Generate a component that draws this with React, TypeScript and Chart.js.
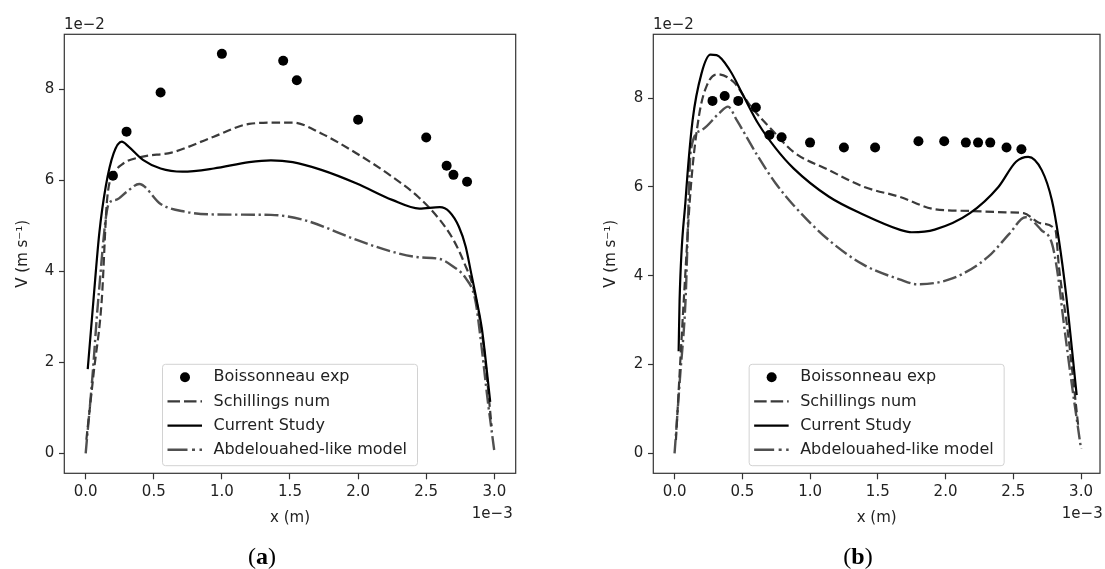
import React, { useEffect, useRef } from 'react';
import { Chart, registerables } from 'chart.js';
Chart.register(...registerables);

// ---------- data (x in units of 1e-3 m, V in units of 1e-2 m/s) ----------
const X_TICKS = [0, 0.5, 1, 1.5, 2, 2.5, 3];
const Y_TICKS = [0, 2, 4, 6, 8];
const LABELS = ['Boissonneau exp', 'Schillings num', 'Current Study', 'Abdelouahed-like model'];

// panel (a)
const aExpX = [0.2, 0.3, 0.55, 1.0, 1.45, 1.55, 2.0, 2.5, 2.65, 2.7, 2.8];
const aExpV = [6.1, 7.07, 7.93, 8.78, 8.63, 8.2, 7.33, 6.94, 6.32, 6.12, 5.97];

const aSchX = [0.005, 0.06, 0.118, 0.157, 0.21, 0.276, 0.42, 0.63, 0.94, 1.2, 1.42, 1.52, 1.73, 1.99, 2.25, 2.44, 2.6, 2.7, 2.78, 2.85, 2.92, 2.98];
const aSchV = [0.3, 1.8, 3.37, 5.57, 6.15, 6.37, 6.52, 6.61, 6.96, 7.24, 7.27, 7.27, 7.03, 6.59, 6.08, 5.64, 5.13, 4.69, 4.18, 3.59, 2.4, 0.6];

const aCurX = [0.015, 0.058, 0.1, 0.147, 0.205, 0.265, 0.315, 0.42, 0.55, 0.71, 0.94, 1.2, 1.36, 1.52, 1.73, 1.99, 2.25, 2.45, 2.6, 2.67, 2.74, 2.79, 2.83, 2.87, 2.91, 2.97];
const aCurV = [1.85, 3.4, 4.84, 5.86, 6.59, 6.85, 6.74, 6.45, 6.26, 6.19, 6.26, 6.4, 6.44, 6.4, 6.23, 5.93, 5.57, 5.38, 5.41, 5.31, 4.98, 4.54, 3.96, 3.37, 2.71, 1.13];

const aAbdX = [0.0, 0.05, 0.092, 0.17, 0.222, 0.302, 0.393, 0.55, 0.73, 0.94, 1.36, 1.6, 1.99, 2.25, 2.44, 2.6, 2.7, 2.79, 2.86, 2.9, 2.95, 3.0];
const aAbdV = [0.0, 1.7, 3.37, 5.49, 5.57, 5.75, 5.92, 5.48, 5.31, 5.25, 5.24, 5.13, 4.69, 4.43, 4.31, 4.27, 4.1, 3.85, 3.37, 2.5, 1.2, 0.05];

// panel (b)
const bExpX = [0.28, 0.37, 0.47, 0.6, 0.7, 0.79, 1.0, 1.25, 1.48, 1.8, 1.99, 2.15, 2.24, 2.33, 2.45, 2.56];
const bExpV = [7.94, 8.05, 7.94, 7.79, 7.17, 7.12, 7.0, 6.89, 6.89, 7.03, 7.03, 7.0, 7.0, 7.0, 6.89, 6.85];

const bSchX = [0.01, 0.068, 0.12, 0.18, 0.24, 0.316, 0.434, 0.564, 0.721, 0.878, 1.14, 1.4, 1.66, 1.92, 2.18, 2.445, 2.576, 2.707, 2.811, 2.837, 2.9, 2.98];
const bSchV = [0.3, 3.45, 6.0, 7.6, 8.3, 8.54, 8.37, 7.81, 7.28, 6.79, 6.38, 6.0, 5.78, 5.5, 5.46, 5.43, 5.41, 5.18, 5.03, 4.2, 2.8, 0.6];

const bCurX = [0.03, 0.037, 0.081, 0.133, 0.199, 0.265, 0.31, 0.408, 0.512, 0.617, 0.747, 0.878, 1.14, 1.4, 1.66, 1.75, 1.92, 2.18, 2.39, 2.52, 2.61, 2.71, 2.785, 2.837, 2.889, 2.968];
const bCurV = [2.3, 3.45, 5.7, 7.5, 8.56, 8.98, 8.97, 8.63, 8.03, 7.43, 6.87, 6.42, 5.78, 5.37, 5.04, 4.98, 5.04, 5.41, 6.0, 6.57, 6.68, 6.38, 5.7, 4.8, 3.6, 1.31];

const bAbdX = [0.0, 0.04, 0.081, 0.12, 0.199, 0.329, 0.394, 0.46, 0.617, 0.747, 0.878, 1.14, 1.4, 1.66, 1.79, 2.05, 2.315, 2.472, 2.589, 2.707, 2.785, 2.83, 2.87, 2.93, 3.0];
const bAbdV = [0.0, 1.7, 3.45, 6.83, 7.28, 7.66, 7.81, 7.5, 6.68, 6.08, 5.59, 4.8, 4.24, 3.92, 3.81, 3.94, 4.43, 4.95, 5.32, 5.03, 4.73, 4.0, 3.0, 1.6, 0.1];

// ---------- styling ----------
const FONT = "'DejaVu Sans', sans-serif";
const TEXT = '#222222';
const AXIS = '#333333';

const zip = (xs: number[], ys: number[]) => xs.map((x, i) => ({ x, y: ys[i] }));

function makeDatasets(ex: number[], ev: number[], sx: number[], sv: number[], cx: number[], cv: number[], ax: number[], av: number[]) {
  return [
    {
      label: LABELS[0], data: zip(ex, ev), showLine: false,
      pointRadius: 5, pointBackgroundColor: '#000', pointBorderColor: '#000', pointBorderWidth: 0,
      kind: 'dot', order: 0,
    },
    {
      label: LABELS[1], data: zip(sx, sv), showLine: true, pointRadius: 0,
      borderColor: '#3a3a3a', borderWidth: 2.2, borderDash: [8.5, 4], cubicInterpolationMode: 'monotone',
      kind: 'line', legendDash: [12.5, 4], order: 2,
    },
    {
      label: LABELS[2], data: zip(cx, cv), showLine: true, pointRadius: 0,
      borderColor: '#000000', borderWidth: 2.2, borderDash: [], cubicInterpolationMode: 'monotone',
      kind: 'line', legendDash: [], order: 1,
    },
    {
      label: LABELS[3], data: zip(ax, av), showLine: true, pointRadius: 0,
      borderColor: '#505050', borderWidth: 2.4, borderDash: [14, 3.6, 2.3, 3.6], cubicInterpolationMode: 'monotone',
      kind: 'line', legendDash: [20, 4.5, 3, 4.5], order: 3,
    },
  ];
}

const framePlugin = {
  id: 'frameAndLegend',
  afterDraw(chart: any) {
    const { ctx, chartArea } = chart;
    ctx.save();
    ctx.strokeStyle = AXIS;
    ctx.lineWidth = 1.2;
    ctx.strokeRect(chartArea.left, chartArea.top, chartArea.right - chartArea.left, chartArea.bottom - chartArea.top);

    // legend box (lower center)
    const w = 255, h = 101.4;
    const left = (chartArea.left + chartArea.right) / 2 - w / 2;
    const top = chartArea.bottom - 7.6 - h;
    const r = 3;
    ctx.beginPath();
    ctx.moveTo(left + r, top);
    ctx.lineTo(left + w - r, top);
    ctx.quadraticCurveTo(left + w, top, left + w, top + r);
    ctx.lineTo(left + w, top + h - r);
    ctx.quadraticCurveTo(left + w, top + h, left + w - r, top + h);
    ctx.lineTo(left + r, top + h);
    ctx.quadraticCurveTo(left, top + h, left, top + h - r);
    ctx.lineTo(left, top + r);
    ctx.quadraticCurveTo(left, top, left + r, top);
    ctx.closePath();
    ctx.fillStyle = 'rgba(255,255,255,0.85)';
    ctx.fill();
    ctx.strokeStyle = '#d2d2d2';
    ctx.lineWidth = 1;
    ctx.stroke();

    ctx.font = `16px ${FONT}`;
    ctx.textBaseline = 'middle';
    ctx.textAlign = 'left';
    chart.data.datasets.forEach((ds: any, i: number) => {
      const cy = top + 13 + i * 24.15;
      if (ds.kind === 'dot') {
        ctx.beginPath();
        ctx.fillStyle = '#000';
        ctx.arc(left + 22.5, cy, 5, 0, Math.PI * 2);
        ctx.fill();
      } else {
        ctx.beginPath();
        ctx.setLineDash(ds.legendDash || []);
        ctx.strokeStyle = ds.borderColor;
        ctx.lineWidth = ds.borderWidth;
        ctx.moveTo(left + 5, cy);
        ctx.lineTo(left + 39.5, cy);
        ctx.stroke();
        ctx.setLineDash([]);
      }
      ctx.fillStyle = TEXT;
      ctx.fillText(ds.label, left + 51, cy);
    });
    ctx.restore();
  },
};

type PanelProps = {
  left: number; width: number; padLeft: number; yWidth: number; padRight: number;
  xMin: number; xMax: number; yMin: number; yMax: number; datasets: any[];
};

function Panel(p: PanelProps) {
  const ref = useRef<HTMLCanvasElement | null>(null);
  useEffect(() => {
    if (!ref.current) return;
    const chart = new Chart(ref.current, {
      type: 'scatter',
      data: { datasets: p.datasets },
      plugins: [framePlugin],
      options: {
        animation: false,
        responsive: false,
        devicePixelRatio: 1,
        layout: { padding: { left: p.padLeft, right: p.padRight, top: 34.3, bottom: 41.7 } },
        plugins: { legend: { display: false }, tooltip: { enabled: false } },
        scales: {
          x: {
            type: 'linear', min: p.xMin, max: p.xMax,
            afterBuildTicks: (s: any) => { s.ticks = X_TICKS.map((value) => ({ value })); },
            afterFit: (s: any) => { s.height = 54; },
            ticks: {
              font: { family: FONT, size: 15 }, color: TEXT, padding: 3.4, maxRotation: 0,
              callback: (v: any) => Number(v).toFixed(1),
            },
            grid: { display: true, drawOnChartArea: false, drawTicks: true, tickLength: 6, tickColor: AXIS, tickWidth: 1.2 },
            border: { display: false },
            title: { display: true, text: 'x (m)', font: { family: FONT, size: 15 }, color: TEXT, padding: 0 },
          },
          y: {
            type: 'linear', min: p.yMin, max: p.yMax,
            afterBuildTicks: (s: any) => { s.ticks = Y_TICKS.map((value) => ({ value })); },
            afterFit: (s: any) => { s.width = p.yWidth; },
            ticks: {
              font: { family: FONT, size: 15 }, color: TEXT, padding: 4.8,
              callback: (v: any) => String(Number(v)),
            },
            grid: { display: true, drawOnChartArea: false, drawTicks: true, tickLength: 5.3, tickColor: AXIS, tickWidth: 1.2 },
            border: { display: false },
            title: { display: true, text: 'V (m s⁻¹)', font: { family: FONT, size: 15 }, color: TEXT, padding: { top: 14.2, bottom: 0 } },
          },
        },
      } as any,
    });
    return () => chart.destroy();
  }, []);
  return (
    <canvas
      ref={ref}
      width={p.width}
      height={569}
      style={{ position: 'absolute', left: p.left, top: 0, width: p.width, height: 569 }}
    />
  );
}

const textStyle: React.CSSProperties = {
  position: 'absolute', fontFamily: FONT, fontSize: 15, lineHeight: '18px', color: TEXT, whiteSpace: 'nowrap',
};
const capStyle: React.CSSProperties = {
  position: 'absolute', fontFamily: "'Liberation Serif', 'DejaVu Serif', serif", fontSize: 24, lineHeight: '24px',
  color: '#000', whiteSpace: 'nowrap', transform: 'translateX(-50%)',
};

export default function App() {
  const dsA = makeDatasets(aExpX, aExpV, aSchX, aSchV, aCurX, aCurV, aAbdX, aAbdV);
  const dsB = makeDatasets(bExpX, bExpV, bSchX, bSchV, bCurX, bCurV, bAbdX, bAbdV);
  return (
    <div style={{ position: 'fixed', left: 0, top: 0, width: 1105, height: 569, background: '#fff', overflow: 'hidden' }}>
      <Panel left={0} width={552} padLeft={0} yWidth={64.3} padRight={36.3}
        xMin={-0.157} xMax={3.157} yMin={-0.44} yMax={9.21} datasets={dsA} />
      <Panel left={552} width={553} padLeft={36} yWidth={65.3} padRight={1}
        xMin={-0.157} xMax={3.14} yMin={-0.45} yMax={9.44} datasets={dsB} />
      <div style={{ ...textStyle, left: 64, top: 14.5 }}>1e−2</div>
      <div style={{ ...textStyle, left: 653, top: 14.5 }}>1e−2</div>
      <div style={{ ...textStyle, left: 512.7, top: 503.7, transform: 'translateX(-100%)' }}>1e−3</div>
      <div style={{ ...textStyle, left: 1102.7, top: 503.7, transform: 'translateX(-100%)' }}>1e−3</div>
      <div style={{ ...capStyle, left: 262, top: 544 }}>(<b>a</b>)</div>
      <div style={{ ...capStyle, left: 858, top: 544 }}>(<b>b</b>)</div>
    </div>
  );
}
